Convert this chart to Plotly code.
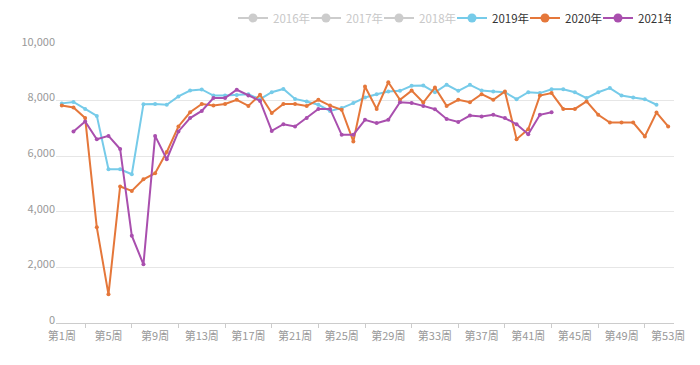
import plotly.graph_objects as go

weeks = list(range(1, 54))
tick_weeks = [1, 5, 9, 13, 17, 21, 25, 29, 33, 37, 41, 45, 49, 53]
tick_labels = ["第%d周" % w for w in tick_weeks]

years = ["2016年", "2017年", "2018年", "2019年", "2020年", "2021年"]

y2019 = [7900, 7950, 7700, 7450, 5530, 5530, 5350, 7870, 7880, 7850,
         8150, 8360, 8400, 8180, 8180, 8200, 8230, 8050, 8300, 8420,
         8060, 7970, 7850, 7630, 7730, 7910, 8110, 8230, 8330, 8350,
         8530, 8540, 8300, 8570, 8350, 8570, 8360, 8330, 8300, 8050,
         8300, 8270, 8410, 8410, 8300, 8090, 8300, 8450, 8180, 8110,
         8050, 7850]
y2020 = [7820, 7750, 7370, 3440, 1030, 4910, 4750, 5170, 5390, 6150,
         7070, 7580, 7880, 7820, 7880, 8030, 7810, 8210, 7550, 7880,
         7880, 7810, 8030, 7820, 7670, 6530, 8510, 7700, 8660, 8030,
         8360, 7930, 8470, 7810, 8030, 7940, 8230, 8030, 8330, 6610,
         6970, 8180, 8270, 7700, 7700, 7970, 7490, 7210, 7210, 7210,
         6710, 7570, 7070]
y2021 = [None, 6890, 7250, 6610, 6730, 6260, 3140, 2110, 6730, 5890,
         6890, 7370, 7630, 8090, 8090, 8390, 8180, 7990, 6910, 7150,
         7070, 7370, 7700, 7700, 6770, 6770, 7310, 7190, 7310, 7940,
         7910, 7810, 7690, 7340, 7230, 7460, 7430, 7490, 7370, 7150,
         6790, 7490, 7580]

colors = {"2019年": "#76cbe9", "2020年": "#e5773a", "2021年": "#a94fae"}
grey = "#cccccc"

fig = go.Figure()

# legend entries (hidden years shown greyed)
for name in years:
    c = colors.get(name, grey)
    txt = name if name in colors else "<span style='color:#c8c8c8'>%s</span>" % name
    fig.add_trace(go.Scatter(
        x=[None], y=[None], name=txt, mode="lines+markers",
        line=dict(color=c, width=2), marker=dict(color=c, size=9),
        showlegend=True, hoverinfo="skip"))

for name, ys in [("2019年", y2019), ("2020年", y2020), ("2021年", y2021)]:
    fig.add_trace(go.Scatter(
        x=weeks[:len(ys)], y=ys, name=name, mode="lines+markers",
        line=dict(color=colors[name], width=2),
        marker=dict(color=colors[name], size=4),
        showlegend=False))

W, H = 692, 357
fig.update_layout(
    width=W, height=H,
    margin=dict(l=48, r=26, t=37, b=42, autoexpand=False),
    paper_bgcolor="white", plot_bgcolor="white",
    font=dict(family="Noto Sans CJK SC, Noto Sans, sans-serif", size=12, color="#999999"),
    legend=dict(orientation="h", xref="container", x=225/W, xanchor="left",
                yref="container", y=1 - 10/H, yanchor="middle",
                font=dict(size=11.5, color="#333333"),
                itemwidth=30, entrywidth=28, entrywidthmode="pixels",
                tracegroupgap=0, bgcolor="rgba(0,0,0,0)"),
    xaxis=dict(range=[0.5, 53.5], tickmode="array", tickvals=tick_weeks,
               ticktext=tick_labels, ticks="", showgrid=False, zeroline=False,
               showline=True, linecolor="#cccccc", linewidth=1,
               ticklabelstandoff=3,
               tickfont=dict(size=11, color="#999999"),
               minor=dict(tickmode="array", tickvals=[3, 7, 11, 15, 19, 23, 27, 31, 35, 39, 43, 47, 51],
                          ticks="outside", ticklen=4, tickcolor="#cccccc", showgrid=False)),
    yaxis=dict(range=[0, 10000], tickvals=[0, 2000, 4000, 6000, 8000, 10000],
               tickformat=",d", showgrid=True, gridcolor="#e6e6e6", zeroline=False,
               showline=False, ticks="", ticklabelshift=-3,
               tickfont=dict(size=11, color="#999999")),
    hovermode="x",
)

fig.write_html("out.html")
